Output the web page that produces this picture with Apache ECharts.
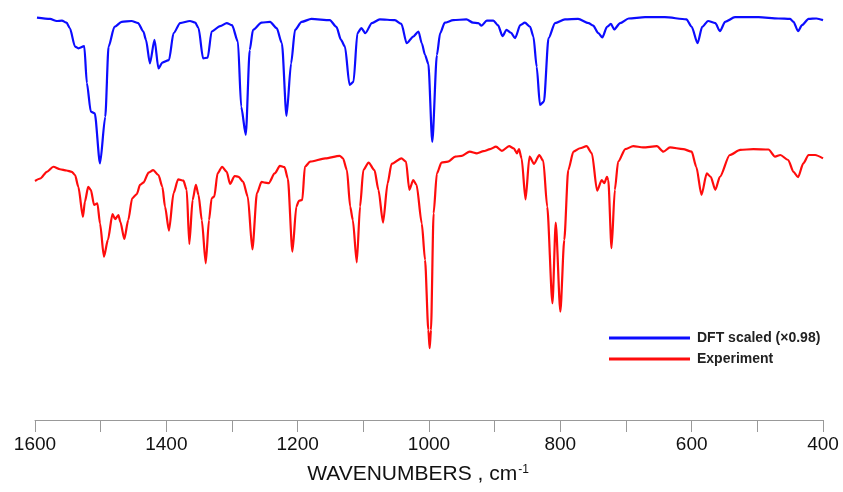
<!DOCTYPE html>
<html>
<head>
<meta charset="utf-8">
<script src="https://cdn.jsdelivr.net/npm/echarts@6/dist/echarts.min.js"></script>
<style>html,body{margin:0;padding:0;background:#fff}#c{width:843px;height:492px}</style>
</head>
<body>
<div id="c"></div>
<script>
// DFT scaled (x0.98) spectrum: wavenumber (cm-1) and relative transmittance (%)
const dftWavenumbers = [1597,1577,1567,1559,1552,1547,1539,1534,1525,1521,1515,1509,1501,1493,1488,1479,1468,1453,1443,1435,1431,1425,1418,1412,1406,1396,1389,1379,1364,1356,1351,1344,1337,1331,1318,1308,1300,1291,1286,1279,1273,1268,1255,1242,1232,1224,1217,1210,1204,1194,1179,1151,1141,1134,1128,1121,1115,1109,1103,1097,1087,1075,1052,1042,1034,1024,1016,1011,1006,1001,995,988,983,976,963,943,933,925,920,912,902,895,888,882,875,869,861,854,846,841,836,831,825,818,808,793,773,757,750,742,736,729,723,718,709,696,671,641,608,600,591,584,575,564,557,549,534,498,468,450,445,438,432,422,410,400];
const dftValues = [95.8,95.5,95.0,95.1,94.6,93.3,88.9,88.5,89.0,80.2,73.4,73.0,61.1,72.2,88.9,93.6,94.8,95.0,94.5,92.5,90.5,84.9,90.5,83.7,85.1,85.7,92.1,94.5,95.0,94.6,93.3,86.1,86.3,92.5,93.8,94.5,94.0,90.1,74.6,67.9,88.1,92.9,94.6,94.8,93.3,89.7,72.4,84.9,92.9,94.8,95.5,95.2,93.6,90.5,88.9,79.8,80.5,92.1,93.3,92.1,94.5,95.4,95.2,94.3,89.7,91.3,92.5,89.7,86.9,84.8,66.2,86.9,92.1,94.6,95.2,95.4,94.6,94.5,93.9,95.1,95.1,94.0,91.4,92.9,92.2,90.9,94.0,94.6,93.6,91.3,84.1,75.0,75.8,90.9,94.5,95.4,95.5,94.5,93.9,92.1,91.1,93.6,94.3,93.0,94.5,95.6,95.9,95.9,95.4,93.6,89.7,93.6,95.0,94.5,92.6,94.8,95.9,95.9,95.6,95.5,94.8,92.6,94.0,95.5,95.6,95.2];

// Experimental spectrum
const expWavenumbers = [1600,1592,1582,1572,1562,1552,1544,1539,1534,1527,1524,1519,1515,1510,1505,1501,1495,1489,1482,1478,1473,1470,1464,1458,1452,1445,1440,1435,1427,1420,1412,1406,1402,1396,1389,1382,1374,1369,1365,1360,1355,1351,1346,1340,1335,1331,1327,1322,1315,1308,1303,1296,1290,1283,1276,1269,1262,1255,1250,1244,1235,1227,1220,1215,1208,1202,1198,1193,1189,1181,1158,1136,1131,1125,1120,1116,1110,1105,1100,1092,1083,1077,1070,1063,1057,1042,1035,1030,1024,1019,1011,1006,1001,999,997,993,988,981,971,960,950,938,927,917,907,898,889,878,871,866,863,859,853,847,840,832,826,820,812,807,800,794,788,780,770,760,752,744,737,733,729,727,722,717,712,701,689,674,653,643,633,613,600,593,585,577,571,564,557,542,526,506,483,473,465,453,445,438,430,422,412,400];
const expValues = [56.9,57.5,59.1,60.3,59.7,59.4,59.1,58.3,55.5,48.4,52.0,55.5,54.8,51.2,51.6,46.8,38.9,42.9,49.0,47.8,48.8,47.2,43.1,47.6,52.8,53.8,56.0,56.5,58.9,59.5,58.3,55.5,50.8,45.1,54.0,57.3,57.0,54.8,41.9,52.4,56.0,53.6,47.6,37.3,47.6,52.8,53.2,58.7,60.3,59.1,56.2,58.1,57.9,56.7,53.2,40.6,54.0,56.7,56.5,56.4,58.7,60.5,60.2,57.5,40.1,50.8,52.2,52.4,60.3,61.5,62.3,62.9,62.3,59.5,50.8,47.6,37.5,50.8,59.5,61.3,59.5,54.8,47.0,56.4,61.0,62.3,61.5,54.8,57.1,56.0,46.8,38.1,21.4,17.1,21.4,49.2,58.7,61.3,61.5,62.7,62.9,63.9,63.5,64.0,64.5,65.1,64.1,65.2,64.7,63.5,64.5,62.3,52.5,62.7,61.0,63.1,61.7,50.8,27.8,47.0,25.8,42.9,59.5,63.9,64.7,65.2,63.5,54.6,57.1,56.4,57.9,57.1,40.9,54.8,61.5,64.5,65.2,64.9,65.2,63.9,64.9,64.5,63.9,60.3,53.6,58.7,57.9,54.8,57.9,63.1,64.3,64.5,64.4,62.7,63.1,61.9,59.1,57.8,61.1,63.1,63.1,62.3];

const xTickLabels = [1600,1400,1200,1000,800,600,400];
const seriesNames = ['DFT scaled (\u00d70.98)', 'Experiment'];

const zip = (xs, ys) => xs.map((x, i) => [x, ys[i]]);
const font = '"Liberation Sans", Arial, sans-serif';

const chart = echarts.init(document.getElementById('c'), null, {renderer: 'canvas'});
chart.setOption({
  animation: false,
  backgroundColor: '#fff',
  grid: {left: 35, right: 20, top: 0, bottom: 72, containLabel: false},
  legend: {
    orient: 'vertical',
    left: 609,
    top: 331,
    padding: 0,
    itemWidth: 81,
    itemHeight: 3,
    itemGap: 7,
    icon: 'rect',
    textStyle: {fontFamily: font, fontSize: 14, fontWeight: 'bold', color: '#222', padding: [0, 0, 0, 2], lineHeight: 14},
    data: seriesNames
  },
  xAxis: {
    type: 'value',
    inverse: true,
    min: 400,
    max: 1600,
    interval: 100,
    splitLine: {show: false},
    axisLine: {lineStyle: {color: '#999', width: 1}},
    axisTick: {length: 12, lineStyle: {color: '#999'}},
    axisLabel: {
      margin: 15,
      fontFamily: font,
      fontSize: 19,
      color: '#111',
      formatter: v => xTickLabels.indexOf(v) >= 0 ? String(v) : ''
    },
    name: '{a|WAVENUMBERS , cm}{s|-1}',
    nameLocation: 'middle',
    nameGap: 44,
    nameTextStyle: {
      padding: [0, 22, 0, 0],
      rich: {
        a: {fontFamily: font, fontSize: 21, color: '#111'},
        s: {fontFamily: font, fontSize: 12, color: '#111', verticalAlign: 'top', padding: [0, 0, 9, 1]}
      }
    }
  },
  yAxis: {type: 'value', min: 0, max: 100, show: false},
  series: [
    {
      name: seriesNames[0], type: 'line', showSymbol: false, symbol: 'none',
      smooth: 0.25, smoothMonotone: 'x',
      lineStyle: {color: '#0c0cff', width: 2.2, join: 'round'}, itemStyle: {color: '#0c0cff'},
      data: zip(dftWavenumbers, dftValues)
    },
    {
      name: seriesNames[1], type: 'line', showSymbol: false, symbol: 'none',
      smooth: 0.25, smoothMonotone: 'x',
      lineStyle: {color: '#ff0c0c', width: 2.2, join: 'round'}, itemStyle: {color: '#ff0c0c'},
      data: zip(expWavenumbers, expValues)
    }
  ]
});
</script>
</body>
</html>
